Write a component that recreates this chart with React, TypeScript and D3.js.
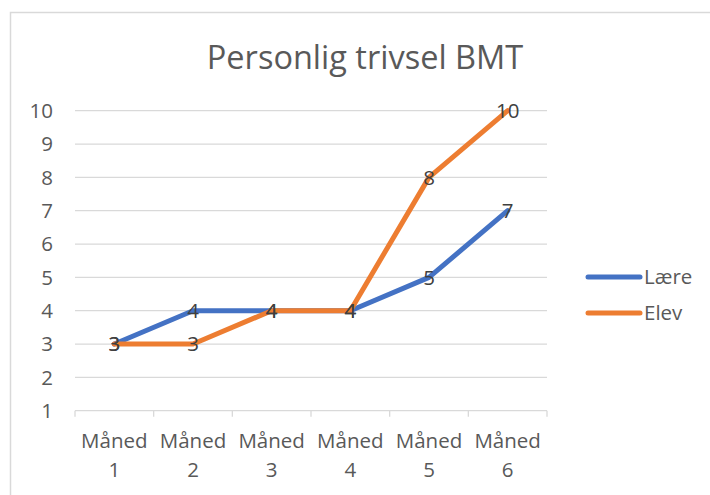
import React from "react";
import * as d3 from "d3";

const categories = ["Måned 1", "Måned 2", "Måned 3", "Måned 4", "Måned 5", "Måned 6"];
const laere = [3, 4, 4, 4, 5, 7];
const elev = [3, 3, 4, 4, 8, 10];
const yTicks = [1, 2, 3, 4, 5, 6, 7, 8, 9, 10];
const seriesNames = ["Lære", "Elev"];
const seriesColors = ["#4472C4", "#ED7D31"];
const title = "Personlig trivsel BMT";

const W = 710;
const H = 495;
const FONT = "'Open Sans', Lato, sans-serif";

export default function App() {
  const x = d3.scaleBand<string>().domain(categories).range([75, 547]);
  const y = d3.scaleLinear().domain([1, 10]).range([410.7, 110.7]);
  const line = d3
    .line<number>()
    .x((_, i) => (x(categories[i]) as number) + x.bandwidth() / 2)
    .y((d) => y(d));
  const series = [laere, elev];
  const tickXs = categories.map((c) => x(c) as number).concat([x.range()[1]]);

  return (
    <svg
      width={W}
      height={H}
      style={{ position: "absolute", left: 0, top: 0, background: "#fff" }}
      fontFamily={FONT}
    >
      <rect x={10.5} y={12.5} width={720} height={500} fill="#fff" stroke="#d9d9d9" strokeWidth={1.5} />
      <text x={365} y={69} textAnchor="middle" fontSize={32.5} fill="#595959">
        {title}
      </text>
      {yTicks.map((t) => (
        <g key={t}>
          {t > 1 && (
            <line x1={75} x2={547} y1={y(t)} y2={y(t)} stroke="#d9d9d9" strokeWidth={1.3} />
          )}
          <text x={53} y={y(t)} dy="0.36em" textAnchor="end" fontSize={20.5} fill="#595959">
            {t}
          </text>
        </g>
      ))}
      <line x1={75} x2={547} y1={y(1)} y2={y(1)} stroke="#d9d9d9" strokeWidth={1.3} />
      {tickXs.map((tx, i) => (
        <line key={i} x1={tx} x2={tx} y1={y(1)} y2={y(1) + 6} stroke="#d9d9d9" strokeWidth={1.3} />
      ))}
      {categories.map((c) => {
        const [a, b] = c.split(" ");
        const cx = (x(c) as number) + x.bandwidth() / 2;
        return (
          <g key={c} fill="#595959" fontSize={20.5}>
            <text x={cx} y={448} textAnchor="middle">{a}</text>
            <text x={cx} y={477} textAnchor="middle">{b}</text>
          </g>
        );
      })}
      {series.map((s, k) => (
        <path
          key={k}
          d={line(s) as string}
          fill="none"
          stroke={seriesColors[k]}
          strokeWidth={5}
          strokeLinejoin="round"
          strokeLinecap="round"
        />
      ))}
      {series.map((s, k) =>
        s.map((v, i) => (
          <text
            key={k + "-" + i}
            x={(x(categories[i]) as number) + x.bandwidth() / 2}
            y={y(v)}
            dy="0.36em"
            textAnchor="middle"
            fontSize={20.5}
            fill="#404040"
          >
            {v}
          </text>
        ))
      )}
      {seriesNames.map((n, k) => {
        const ly = 277 + k * 36;
        return (
          <g key={n}>
            <line x1={588} x2={640} y1={ly} y2={ly} stroke={seriesColors[k]} strokeWidth={5} strokeLinecap="round" />
            <text x={644} y={ly} dy="0.36em" fontSize={20.5} fill="#595959">
              {n}
            </text>
          </g>
        );
      })}
    </svg>
  );
}
